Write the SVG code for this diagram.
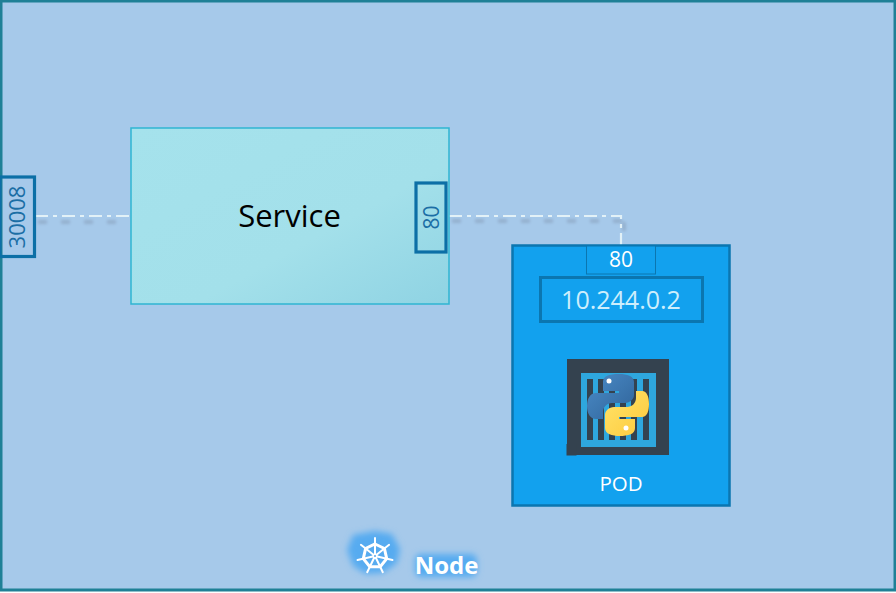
<svg xmlns="http://www.w3.org/2000/svg" width="896" height="593" viewBox="0 0 896 593">
<style>
text{font-family:"Open Sans","Noto Sans","Liberation Sans",sans-serif;text-anchor:middle}
.link{fill:none;stroke:#e2f1f7;stroke-width:2.2;stroke-dasharray:13 5 4 5}
.shadow{fill:none;stroke:#7f93ad;stroke-width:4;stroke-dasharray:9 14;opacity:.45;filter:url(#soft)}
.port{fill:none;stroke:#0c6fa6;stroke-width:3.2}
</style>
<defs>
<linearGradient id="svc" x1="0" y1="0" x2="1" y2="1"><stop offset="0" stop-color="#a5e2ec"/><stop offset=".6" stop-color="#a3e0ea"/><stop offset="1" stop-color="#8fd3e3"/></linearGradient>
<linearGradient id="pyb" x1="0" y1="0" x2="1" y2="1"><stop offset="0" stop-color="#4b8cc8"/><stop offset="1" stop-color="#2f6399"/></linearGradient>
<linearGradient id="pyy" x1="0" y1="0" x2="1" y2="1"><stop offset="0" stop-color="#ffe46a"/><stop offset="1" stop-color="#fdc93c"/></linearGradient>
<filter id="soft" filterUnits="userSpaceOnUse" x="0" y="150" width="896" height="150"><feGaussianBlur stdDeviation="1.5"/></filter>
<filter id="glow" x="-40%" y="-40%" width="180%" height="180%"><feGaussianBlur stdDeviation="3"/></filter>
</defs>
<rect x="0" y="0" width="896" height="593" fill="#ffffff"/>
<g id="node-frame"><rect x="1" y="1" width="894" height="589" fill="#a6c9ea" stroke="#1f8096" stroke-width="3"/></g>
<g id="connectors">
<path class="shadow" d="M38 222H130"/>
<path class="shadow" d="M452 221H622"/>
<path class="shadow" d="M624 222V240"/>
<path class="link" d="M35 216H130"/>
<path class="link" d="M449 216H621V245"/>
</g>
<g id="service">
<rect x="131" y="128" width="318" height="176" fill="url(#svc)" stroke="#2fb5d2" stroke-width="1.500"/>
<text x="289.500" y="227" font-size="31" fill="#000000">Service</text>
</g>
<g id="port-80-service">
<rect class="port" x="416" y="183" width="30" height="69"/>
<text transform="translate(438.500 217.500) rotate(-90)" font-size="21" fill="#1b6ea5">80</text>
</g>
<g id="port-30008">
<rect class="port" x="0" y="177" width="34.500" height="79.500"/>
<text transform="translate(24.500 217) rotate(-90)" font-size="22" fill="#1b6ea5">30008</text>
</g>
<g id="pod">
<rect x="512.500" y="245.500" width="217" height="260" fill="#12a1ee" stroke="#0b76b0" stroke-width="2.500"/>
<rect x="586.500" y="246" width="69" height="28" fill="#12a1ee" stroke="#0b76b0" stroke-width="1"/>
<text x="621" y="267" font-size="21" fill="#ffffff">80</text>
<rect x="540.500" y="277.500" width="162" height="44" fill="#12a1ee" stroke="#0b76b0" stroke-width="3"/>
<text x="621" y="309" font-size="25" fill="#cdeefc">10.244.0.2</text>
<text x="621" y="491" font-size="20.500" fill="#ffffff">POD</text>
</g>
<g id="container">
<rect x="567" y="359" width="102" height="96" fill="#34424f"/>
<rect x="566.500" y="444" width="10" height="11.500" fill="#34424f"/>
<rect x="581" y="373" width="75" height="74" fill="#2ea7de"/>
<g fill="#34424f"><rect x="587" y="379" width="6" height="61"/><rect x="598" y="379" width="6" height="61"/><rect x="609" y="379" width="6" height="61"/><rect x="620" y="379" width="6" height="61"/><rect x="631" y="379" width="6" height="61"/><rect x="643" y="379" width="6" height="61"/></g>
<path fill="url(#pyb)" d="M619 374c-10 0-16 2-16 8v9h16v2h-23c-6 0-9 6-9 13s3 13 9 13h7v-7c0-5 4-9 9-9h13c5 0 9-4 9-8v-13c0-6-7-8-15-8z"/>
<path fill="url(#pyy)" d="M619 436c10 0 16-2 16-8v-9h-16v-2h23c5 0 7-6 7-13s-2-13-7-13h-6v7c0 5-4 9-9 9h-13c-5 0-9 4-9 8v13c0 6 7 8 15 8z"/>
<circle cx="609" cy="381" r="2.500" fill="#ffffff"/>
<circle cx="626" cy="428" r="2.500" fill="#ffffff"/>
</g>
<g id="node-label">
<path d="M375 531l17 3 8 15-3 14-14 10-17 1-13-8-6-16 6-15z" fill="#56abf0" filter="url(#glow)"/>
<rect x="415" y="554" width="62" height="23" rx="6" fill="#56abf0" filter="url(#glow)"/>
<g fill="none" stroke="#ffffff" stroke-linecap="round">
<path d="M375 544l9.400 4.500 2.300 10.200-6.500 8.100h-10.400l-6.500-8.100 2.300-10.200z" stroke-width="3"/>
<path d="M375 556V538M375 556L389.100 544.800M375 556L392.500 560M375 556L382.800 572.200M375 556L367.200 572.200M375 556L357.500 560M375 556L360.900 544.800" stroke-width="2"/>
</g>
<circle cx="375" cy="556" r="2.500" fill="#ffffff"/>
<circle cx="375" cy="556" r="1" fill="#5aa6e8"/>
<text x="446.500" y="574" font-size="24" font-weight="700" fill="#ffffff">Node</text>
</g>
</svg>
